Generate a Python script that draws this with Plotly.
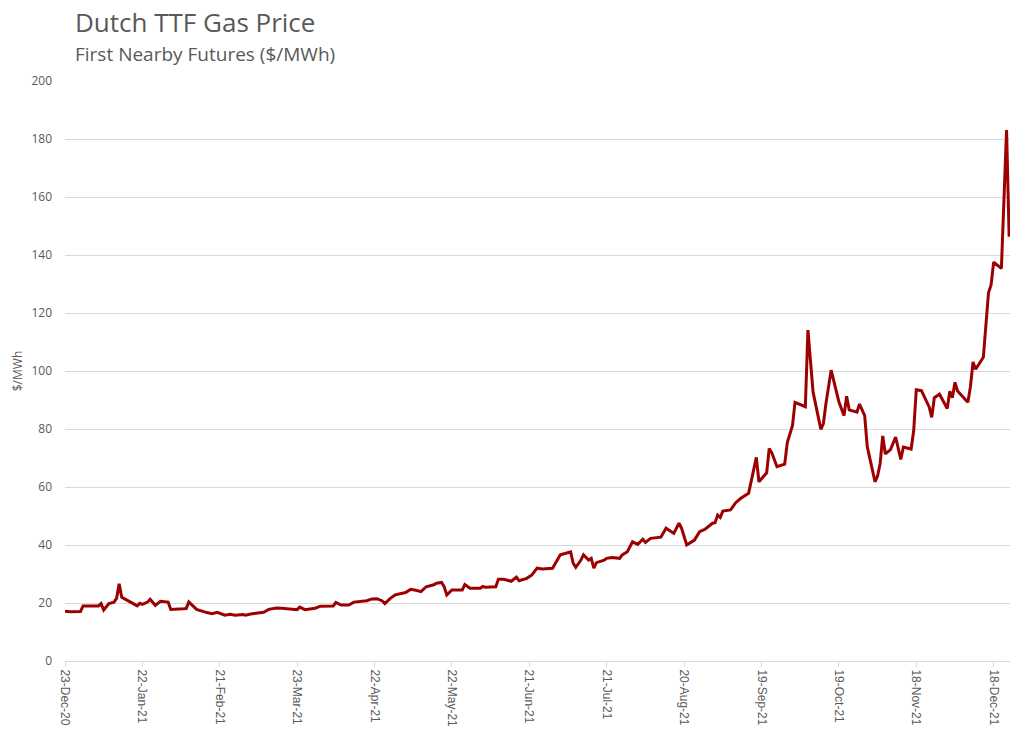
import plotly.graph_objects as go

dates = [
    "2020-12-23", "2020-12-25", "2020-12-29", "2020-12-30", "2021-01-05", "2021-01-06", "2021-01-07",
    "2021-01-09", "2021-01-11", "2021-01-12", "2021-01-13", "2021-01-14", "2021-01-16", "2021-01-20",
    "2021-01-21", "2021-01-22", "2021-01-24", "2021-01-25", "2021-01-27", "2021-01-29", "2021-02-01",
    "2021-02-02", "2021-02-07", "2021-02-08", "2021-02-09", "2021-02-12", "2021-02-16", "2021-02-18",
    "2021-02-20", "2021-02-23", "2021-02-25", "2021-02-27", "2021-03-02", "2021-03-03", "2021-03-05",
    "2021-03-08", "2021-03-10", "2021-03-12", "2021-03-15", "2021-03-17", "2021-03-21", "2021-03-23",
    "2021-03-24", "2021-03-26", "2021-03-30", "2021-04-01", "2021-04-06", "2021-04-07", "2021-04-09",
    "2021-04-12", "2021-04-14", "2021-04-16", "2021-04-19", "2021-04-21", "2021-04-23", "2021-04-25",
    "2021-04-26", "2021-04-28", "2021-04-30", "2021-05-04", "2021-05-06", "2021-05-08", "2021-05-10",
    "2021-05-12", "2021-05-15", "2021-05-16", "2021-05-18", "2021-05-19", "2021-05-20", "2021-05-22",
    "2021-05-26", "2021-05-27", "2021-05-29", "2021-06-02", "2021-06-03", "2021-06-04", "2021-06-08",
    "2021-06-09", "2021-06-11", "2021-06-14", "2021-06-16", "2021-06-17", "2021-06-20", "2021-06-22",
    "2021-06-24", "2021-06-26", "2021-06-30", "2021-07-03", "2021-07-05", "2021-07-07", "2021-07-08",
    "2021-07-09", "2021-07-11", "2021-07-12", "2021-07-14", "2021-07-15", "2021-07-16", "2021-07-17",
    "2021-07-20", "2021-07-21", "2021-07-23", "2021-07-26", "2021-07-27", "2021-07-29", "2021-07-31",
    "2021-08-02", "2021-08-04", "2021-08-05", "2021-08-07", "2021-08-11", "2021-08-13", "2021-08-16",
    "2021-08-18", "2021-08-19", "2021-08-21", "2021-08-24", "2021-08-26", "2021-08-28", "2021-08-31",
    "2021-09-01", "2021-09-02", "2021-09-03", "2021-09-04", "2021-09-07", "2021-09-09", "2021-09-11",
    "2021-09-14", "2021-09-17", "2021-09-18", "2021-09-21", "2021-09-22", "2021-09-23", "2021-09-25",
    "2021-09-28", "2021-09-29", "2021-10-01", "2021-10-02", "2021-10-05", "2021-10-06", "2021-10-07",
    "2021-10-09", "2021-10-12", "2021-10-13", "2021-10-14", "2021-10-16", "2021-10-19", "2021-10-21",
    "2021-10-22", "2021-10-23", "2021-10-26", "2021-10-27", "2021-10-29", "2021-10-30", "2021-11-02",
    "2021-11-03", "2021-11-04", "2021-11-05", "2021-11-06", "2021-11-08", "2021-11-10", "2021-11-12",
    "2021-11-13", "2021-11-16", "2021-11-17", "2021-11-18", "2021-11-20", "2021-11-23", "2021-11-24",
    "2021-11-25", "2021-11-27", "2021-11-30", "2021-12-01", "2021-12-02", "2021-12-03", "2021-12-04",
    "2021-12-08", "2021-12-09", "2021-12-10", "2021-12-11", "2021-12-14", "2021-12-16", "2021-12-17",
    "2021-12-18", "2021-12-21", "2021-12-23", "2021-12-24",
]

prices = [
    17.2, 17.0, 17.1, 19.0, 19.0, 19.8, 17.6,
    19.8, 20.3, 21.6, 26.6, 22.0, 21.0, 19.0,
    19.9, 19.5, 20.3, 21.3, 19.2, 20.6, 20.3,
    17.8, 18.0, 18.1, 20.4, 17.8, 16.7, 16.3,
    16.8, 15.8, 16.1, 15.8, 16.0, 15.8, 16.2,
    16.7, 16.8, 17.8, 18.3, 18.2, 17.9, 17.7,
    18.6, 17.7, 18.2, 18.9, 19.0, 20.2, 19.3,
    19.3, 20.3, 20.6, 20.8, 21.4, 21.5, 20.7,
    19.8, 21.5, 22.8, 23.6, 24.7, 24.4, 23.9,
    25.6, 26.3, 26.8, 27.1, 25.6, 22.8, 24.5,
    24.5, 26.4, 25.1, 25.1, 25.7, 25.4, 25.6,
    28.2, 28.2, 27.5, 28.9, 27.7, 28.5, 29.7,
    32.0, 31.7, 32.0, 36.6, 37.1, 37.6, 33.7,
    32.3, 34.8, 36.6, 34.8, 35.4, 32.0, 33.9,
    34.8, 35.4, 35.7, 35.4, 36.6, 37.7, 41.1,
    40.2, 42.0, 40.9, 42.3, 42.7, 45.8, 44.0,
    47.5, 45.8, 40.0, 41.7, 44.6, 45.4, 47.5,
    47.7, 50.3, 49.5, 51.7, 52.1, 54.6, 56.1,
    57.8, 70.2, 61.8, 64.9, 73.3, 71.8, 67.0,
    67.9, 75.3, 81.1, 89.2, 87.9, 87.7, 114.1,
    92.7, 79.9, 81.9, 88.9, 100.3, 89.4, 84.6,
    91.3, 86.6, 85.8, 88.6, 84.6, 73.9, 61.8,
    63.8, 68.2, 77.6, 71.4, 72.9, 77.2, 69.5,
    73.8, 73.1, 79.4, 93.5, 93.2, 87.6, 84.0,
    90.8, 92.0, 87.1, 93.0, 90.8, 96.1, 93.1,
    89.2, 94.6, 103.1, 100.6, 104.7, 127.0, 129.7,
    137.5, 135.4, 183.1, 146.3,
]

title_text = "Dutch TTF Gas Price"
subtitle_text = "First Nearby Futures ($/MWh)"
y_title = "$/MWh"

grid = "#D9D9D9"
txt = "#595959"
font_main = "Open Sans, Noto Sans, sans-serif"

fig = go.Figure()
fig.add_trace(go.Scatter(
    x=dates, y=prices, mode="lines",
    line=dict(color="#9C0000", width=3),
    hoverinfo="x+y", showlegend=False,
))

fig.update_layout(
    width=1023, height=736,
    margin=dict(l=65, r=13, t=81, b=75, autoexpand=False),
    paper_bgcolor="white", plot_bgcolor="white",
    font=dict(family=font_main, color=txt, size=12),
)
fig.add_annotation(text=title_text, xref="paper", yref="paper",
                   x=(73 - 65) / 945, y=1 + (81 - 22) / 580,
                   xanchor="left", yanchor="middle", showarrow=False,
                   font=dict(size=26, color=txt, family=font_main))
fig.add_annotation(text=subtitle_text, xref="paper", yref="paper",
                   x=(73 - 65) / 945, y=1 + (81 - 54) / 580,
                   xanchor="left", yanchor="middle", showarrow=False,
                   font=dict(size=19, color=txt, family=font_main))

fig.update_xaxes(
    type="date", automargin=False,
    range=["2020-12-23", "2021-12-24 08:00"],
    tick0="2020-12-23", dtick=30 * 86400000,
    tickformat="%d-%b-%y", tickangle=90,
    tickfont=dict(family="Liberation Sans, Arial, sans-serif", size=12, color=txt),
    showgrid=False, showline=True, linecolor=grid, linewidth=1,
    ticks="outside", ticklen=5, tickcolor=grid, tickwidth=1,
    zeroline=False,
)
fig.update_yaxes(
    range=[0, 200], dtick=20, automargin=False,
    showgrid=True, gridcolor=grid, gridwidth=1,
    showline=False, zeroline=False,
    tickfont=dict(size=12, color=txt),
    ticks="", ticklabelstandoff=12,
    title=dict(text=y_title, font=dict(size=12, color=txt), standoff=6),
)

# remove the browser's default 8px body margin so the figure fills the window
fig.write_html("out.html", post_script="document.body.style.margin='0';",
               config={"displayModeBar": False})
